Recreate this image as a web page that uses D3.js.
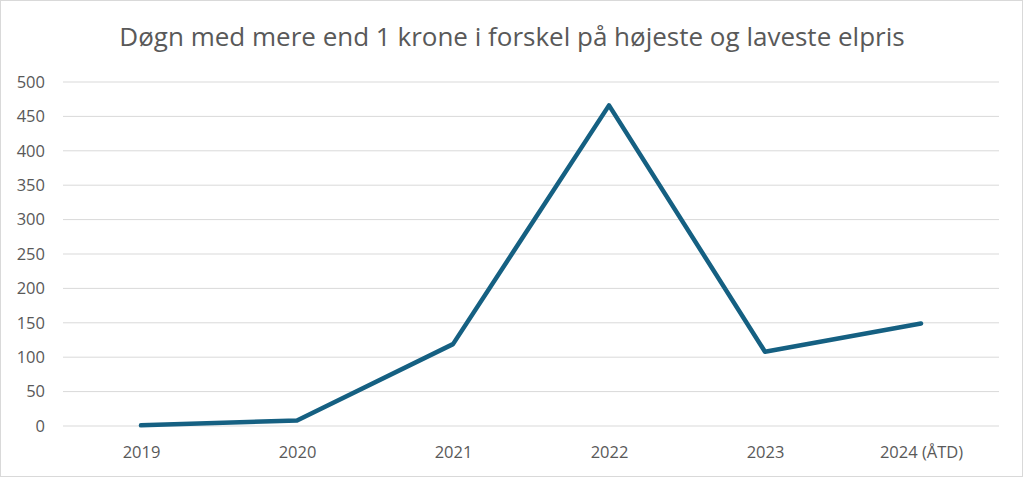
<!DOCTYPE html>
<html>
<head>
<meta charset="utf-8">
<script src="https://d3js.org/d3.v7.min.js"></script>
<style>
  body { margin: 0; background: #fff; }
  svg { display: block; font-family: "Open Sans", "Noto Sans", sans-serif; }
</style>
</head>
<body>
<svg width="1024" height="478"></svg>
<script>
var years = ["2019", "2020", "2021", "2022", "2023", "2024 (ÅTD)"];
var days = [1, 8, 119, 466, 108, 149];
var yTicks = [0, 50, 100, 150, 200, 250, 300, 350, 400, 450, 500];
var title = "Døgn med mere end 1 krone i forskel på højeste og laveste elpris";

var svg = d3.select("svg");

svg.append("rect")
    .attr("x", 0.5).attr("y", 0.5)
    .attr("width", 1022).attr("height", 476)
    .attr("fill", "#fff")
    .attr("stroke", "#d9d9d9");

svg.append("text").text(title)
    .attr("x", 512)
    .attr("y", 46)
    .attr("text-anchor", "middle")
    .style("font-size", "26px")
    .style("fill", "#595959");

var xscale = d3.scalePoint().domain(years).range([141, 921]);
var yscale = d3.scaleLinear().domain([0, 500]).range([426, 82]);

// gridlines
svg.append("g").selectAll("line")
    .data(yTicks)
    .enter().append("line")
    .attr("x1", 63).attr("x2", 999)
    .attr("y1", function(d) { return yscale(d); })
    .attr("y2", function(d) { return yscale(d); })
    .attr("stroke", "#d9d9d9")
    .attr("stroke-width", 1);

var yaxis = d3.axisLeft(yscale).tickValues(yTicks).tickSize(0).tickPadding(0);
var gy = svg.append("g").attr("transform", "translate(45,0)").call(yaxis);
gy.select(".domain").remove();
gy.selectAll("text")
    .style("font-size", "16.5px")
    .style("fill", "#595959")
    .style("font-family", "\"Open Sans\", sans-serif");

var xaxis = d3.axisBottom(xscale).tickSize(0).tickPadding(0);
var gx = svg.append("g").attr("transform", "translate(0,446)").call(xaxis);
gx.select(".domain").remove();
gx.selectAll("text")
    .style("font-size", "16.5px")
    .style("fill", "#595959")
    .style("font-family", "\"Open Sans\", sans-serif");

var line = d3.line()
    .x(function(d, i) { return xscale(years[i]); })
    .y(function(d) { return yscale(d); });

svg.append("path")
    .datum(days)
    .attr("d", line)
    .attr("fill", "none")
    .attr("stroke", "#156082")
    .attr("stroke-width", 4.5)
    .attr("stroke-linejoin", "round")
    .attr("stroke-linecap", "round");
</script>
</body>
</html>
